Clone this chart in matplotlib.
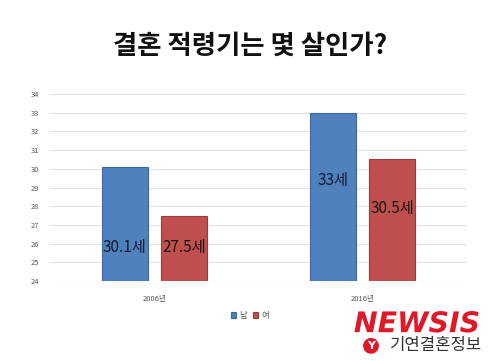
import matplotlib
matplotlib.use("Agg")
import matplotlib.pyplot as plt
import numpy as np
import matplotlib.patheffects as pe

plt.rcParams['font.family'] = ['Noto Sans CJK KR', 'DejaVu Sans']

categories = ['2006년', '2016년']
series_names = ['남', '여']
male = [30.1, 33.0]
female = [27.5, 30.5]
labels_male = ['30.1세', '33세']
labels_female = ['27.5세', '30.5세']
yticks = list(range(24, 35))
title = '결혼 적령기는 몇 살인가?'

label_y_male = [25.8, 29.35]
label_y_female = [25.8, 27.9]

fig = plt.figure(figsize=(5, 3.61), dpi=100)
ax = fig.add_axes([0.1, 0.2216, 0.834, 0.518])

x = np.arange(len(categories))
w = 0.22
off = 0.1415
blue = '#4F81BD'
red = '#C0504D'
ax.bar(x - off, [v - 24 for v in male], w, bottom=24, color=blue, edgecolor='#3A67A0', linewidth=0.8, label=series_names[0], zorder=3)
ax.bar(x + off, [v - 24 for v in female], w, bottom=24, color=red, edgecolor='#9A3B38', linewidth=0.8, label=series_names[1], zorder=3)

for i in range(len(categories)):
    ax.text(x[i] - off, label_y_male[i], labels_male[i], ha='center', va='center', fontsize=11, color='#111a33', zorder=4)
    ax.text(x[i] + off, label_y_female[i], labels_female[i], ha='center', va='center', fontsize=11, color='#1a1111', zorder=4)

ax.set_xlim(-0.5, 1.5)
ax.set_ylim(24, 34)
ax.set_yticks(yticks)
ax.set_xticks(x)
ax.set_xticklabels(categories)
ax.tick_params(axis='both', length=0, labelsize=5.5, labelcolor='#595959')
ax.tick_params(axis='y', pad=8)
ax.tick_params(axis='x', pad=10)
ax.grid(axis='y', color='#e3e3e3', linewidth=0.8, zorder=0)
for s in ax.spines.values():
    s.set_visible(False)

leg = ax.legend(loc='upper center', bbox_to_anchor=(0.5 - 0.02, -0.12), ncol=2, frameon=False,
                fontsize=6, handlelength=0.6, handleheight=0.6, handletextpad=0.4, columnspacing=0.8)
for t in leg.get_texts():
    t.set_color('#595959')

fig.text(0.5, 0.872, title, ha='center', va='center', fontsize=19, fontweight='bold', color='#111111')

# watermark
fig.text(0.834, 0.102, 'NEWSIS', ha='center', va='center', fontsize=20.5, fontweight='heavy', style='italic',
         color='#E0192A', family='DejaVu Sans',
         path_effects=[pe.withStroke(linewidth=2, foreground='white')])
fig.text(0.872, 0.042, '기연결혼정보', ha='center', va='center', fontsize=12, color='#333333')
fig.text(0.742, 0.042, 'Y', ha='center', va='center', fontsize=8, fontweight='bold', color='white', family='DejaVu Sans',
         bbox=dict(boxstyle='circle,pad=0.2', fc='#E0192A', ec='#E0192A'))

fig.savefig('out.png', dpi=100)
